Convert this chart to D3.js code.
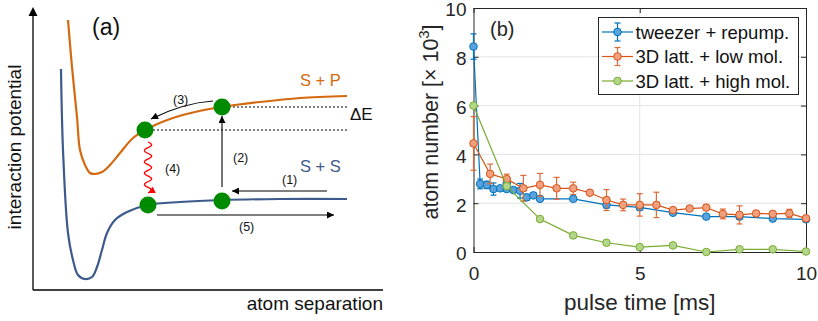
<!DOCTYPE html>
<html>
<head>
<meta charset="utf-8">
<script src="https://cdn.jsdelivr.net/npm/d3@7"></script>
<style>
  body { margin: 0; background: #fff; }
  svg { display: block; font-family: "Liberation Sans", Arial, sans-serif; }
</style>
</head>
<body>
<svg id="fig" width="818" height="321"></svg>
<script>
// ---------- panel (b): atom loss vs. pulse time ----------
const tweezerTime  = [0, 0.2, 0.4, 0.6, 0.8, 1.0, 1.0, 1.2, 1.4, 1.6, 1.8, 2, 3, 4, 5, 6, 7, 8, 9, 10];
const tweezerAtoms = [8.42, 2.79, 2.75, 2.58, 2.61, 2.81, 2.58, 2.54, 2.51, 2.24, 2.32, 2.18, 2.18, 1.93, 1.83, 1.61, 1.45, 1.45, 1.37, 1.34];
const tweezerErr   = [0.52, 0.2, 0.15, 0.25, 0.08, 0.15, 0.1, 0.1, 0.3, 0.12, 0.1, 0.08, 0.08, 0.13, 0.1, 0.1, 0.08, 0.1, 0.1, 0.1];

const lowMolTime  = [0, 0.5, 1, 1.5, 2, 2.5, 3, 3.5, 4, 4.5, 5, 5.5, 6, 6.5, 7, 7.5, 8, 8.5, 9, 9.5, 10];
const lowMolAtoms = [4.45, 3.2, 2.99, 2.61, 2.75, 2.61, 2.61, 2.43, 2.13, 1.93, 1.93, 1.93, 1.72, 1.78, 1.82, 1.56, 1.52, 1.58, 1.56, 1.58, 1.38];
const lowMolErr   = [1.1, 0.4, 0.2, 0.53, 0.47, 0.45, 0.25, 0.06, 0.43, 0.24, 0.46, 0.52, 0.1, 0.08, 0.1, 0.2, 0.37, 0.12, 0.1, 0.17, 0.1];

const highMolTime  = [0, 1, 2, 3, 4, 5, 6, 7, 8, 9, 10];
const highMolAtoms = [6.0, 2.7, 1.35, 0.68, 0.38, 0.2, 0.27, 0.0, 0.11, 0.11, 0.02];

const xTicksB = [0, 5, 10];
const yTicksB = [0, 2, 4, 6, 8, 10];
const legendLabels = ["tweezer + repump.", "3D latt. + low mol.", "3D latt. + high mol."];

// ---------- panel (a): schematic potential curves (separation, energy units) ----------
const spCurve = [[35,270],[39,223],[44,173],[47,140],[52,125],[57,117],[62,116],[69,118],[77,125],[87,137],[100,152],[112,160],[137,171],[162,178],[189,183],[227,188],[267,192],[314,194]];
const ssCurve = [[28,221],[30,140],[35,57],[40,30],[45,15],[52,11],[59,13],[64,23],[69,40],[74,57],[82,70],[94,78],[115,85],[147,88],[189,90],[247,91],[314,91]];
const atomPairs = [[112,160],[189,183],[115,85],[189,89]];

const svg = d3.select("#fig");

// ===================== panel (a) =====================
const sx = d3.scaleLinear().domain([0, 350]).range([33, 383]);
const sy = d3.scaleLinear().domain([0, 290]).range([290, 0]);

const defs = svg.append("defs");
function arrowMarker(id, color, w, h) {
  defs.append("marker")
    .attr("id", id).attr("viewBox", "0 0 10 10")
    .attr("refX", 10).attr("refY", 5)
    .attr("markerWidth", w).attr("markerHeight", h)
    .attr("markerUnits", "userSpaceOnUse")
    .attr("orient", "auto")
    .append("path").attr("d", "M0,0 L10,5 L0,10 Z").attr("fill", color);
}
arrowMarker("arrBlack", "#000", 11, 7);
arrowMarker("arrRed", "#ff0000", 8, 7);

const gA = svg.append("g");

// axes of the schematic
gA.append("line").attr("x1", sx(0)).attr("y1", sy(0)).attr("x2", sx(0)).attr("y2", sy(275))
  .attr("stroke", "#000").attr("stroke-width", 1.3);
gA.append("path")
  .attr("d", `M${sx(0)},${sy(283)} L${sx(-4.5)},${sy(274)} L${sx(4.5)},${sy(274)} Z`)
  .attr("fill", "#000");
gA.append("line").attr("x1", sx(0)).attr("y1", sy(0)).attr("x2", sx(350)).attr("y2", sy(0))
  .attr("stroke", "#000").attr("stroke-width", 1.3);

gA.append("text").attr("transform", `translate(21,${sy(143)}) rotate(-90)`)
  .attr("text-anchor", "middle").attr("font-size", 19).attr("fill", "#111")
  .text("interaction potential");
gA.append("text").attr("x", sx(350)).attr("y", 310)
  .attr("text-anchor", "end").attr("font-size", 19).attr("fill", "#111")
  .text("atom separation");
gA.append("text").attr("x", 92).attr("y", 35).attr("font-size", 23).attr("fill", "#111").text("(a)");

// dotted energy markers for ΔE
gA.append("line").attr("x1", sx(196)).attr("x2", sx(314)).attr("y1", sy(183)).attr("y2", sy(183))
  .attr("stroke", "#000").attr("stroke-width", 1).attr("stroke-dasharray", "2,2");
gA.append("line").attr("x1", sx(120)).attr("x2", sx(314)).attr("y1", sy(160)).attr("y2", sy(160))
  .attr("stroke", "#000").attr("stroke-width", 1).attr("stroke-dasharray", "2,2");

// potential curves
const curveLine = d3.line().x(d => sx(d[0])).y(d => sy(d[1])).curve(d3.curveCatmullRom.alpha(0.5));
gA.append("path").attr("d", curveLine(ssCurve)).attr("fill", "none")
  .attr("stroke", "#3d5a8c").attr("stroke-width", 2.2);
gA.append("path").attr("d", curveLine(spCurve)).attr("fill", "none")
  .attr("stroke", "#d4690f").attr("stroke-width", 2.2);

gA.append("text").attr("x", sx(267)).attr("y", sy(204)).attr("font-size", 16.5).attr("fill", "#d4690f").text("S + P");
gA.append("text").attr("x", sx(267)).attr("y", sy(118)).attr("font-size", 16.5).attr("fill", "#3d5a8c").text("S + S");
gA.append("text").attr("x", sx(317)).attr("y", sy(170)).attr("font-size", 17).attr("fill", "#111").text("ΔE");

// process arrows
function arrow(p0, p1) {
  gA.append("line").attr("x1", sx(p0[0])).attr("y1", sy(p0[1])).attr("x2", sx(p1[0])).attr("y2", sy(p1[1]))
    .attr("stroke", "#000").attr("stroke-width", 1.1).attr("marker-end", "url(#arrBlack)");
}
arrow([189, 103], [189, 174]);   // (2) excitation
arrow([294, 99], [199, 99]);     // (1) approach
arrow([124, 75], [301, 75]);     // (5) escape
gA.append("path")
  .attr("d", `M${sx(180)},${sy(189)} Q${sx(150)},${sy(187)} ${sx(118)},${sy(171)}`)
  .attr("fill", "none").attr("stroke", "#000").attr("stroke-width", 1.1)
  .attr("marker-end", "url(#arrBlack)");   // (3) acceleration on S+P

// (4) spontaneous decay, drawn as a squiggle
const waveTop = sy(148), waveBot = sy(97), waveX = sx(115);
const wavePts = d3.range(0, 1.0001, 0.01).map(t => [waveX + 3.6 * Math.sin(t * 2 * Math.PI * 4.5), waveTop + t * (waveBot - waveTop)]);
gA.append("path").attr("d", d3.line()(wavePts)).attr("fill", "none")
  .attr("stroke", "#ff0000").attr("stroke-width", 1.3).attr("marker-end", "url(#arrRed)");

const lbl = [["(1)", 249, 106], ["(2)", 200, 128], ["(3)", 140, 186], ["(4)", 132, 117], ["(5)", 206, 59]];
lbl.forEach(([t, u, v]) => gA.append("text").attr("x", sx(u)).attr("y", sy(v))
  .attr("font-size", 12.5).attr("fill", "#111").text(t));

gA.selectAll("circle.atom").data(atomPairs).join("circle").attr("class", "atom")
  .attr("cx", d => sx(d[0])).attr("cy", d => sy(d[1])).attr("r", 8.5).attr("fill", "#008a00");

// ===================== panel (b) =====================
const x = d3.scaleLinear().domain([0, 10]).range([473.5, 806]);
const y = d3.scaleLinear().domain([0, 10]).range([252, 8]);
const gB = svg.append("g");

// grid
gB.selectAll("line.gy").data([2, 4, 6, 8]).join("line").attr("class", "gy")
  .attr("x1", x(0)).attr("x2", x(10)).attr("y1", d => y(d)).attr("y2", d => y(d))
  .attr("stroke", "#e3e3e3").attr("stroke-width", 1);
gB.selectAll("line.gx").data([5]).join("line").attr("class", "gx")
  .attr("x1", d => x(d)).attr("x2", d => x(d)).attr("y1", y(0)).attr("y2", y(10))
  .attr("stroke", "#e3e3e3").attr("stroke-width", 1);

const axisColor = "#262626";
function styleAxis(g) {
  g.selectAll("path.domain").attr("stroke", axisColor).attr("stroke-width", 1);
  g.selectAll(".tick line").attr("stroke", axisColor);
  g.selectAll(".tick text").attr("fill", "#262626").attr("font-size", 19).attr("font-family", "Liberation Sans, Arial, sans-serif");
}
gB.append("g").attr("transform", `translate(0,${y(0)})`)
  .call(d3.axisBottom(x).tickValues(xTicksB).tickSize(-5).tickSizeOuter(0).tickPadding(15).tickFormat(d3.format("d")))
  .call(styleAxis);
gB.append("g").attr("transform", `translate(0,${y(10)})`)
  .call(d3.axisTop(x).tickValues(xTicksB).tickSize(-5).tickSizeOuter(0).tickFormat(""))
  .call(styleAxis);
gB.append("g").attr("transform", `translate(${x(0)},0)`)
  .call(d3.axisLeft(y).tickValues(yTicksB).tickSize(-5).tickSizeOuter(0).tickPadding(7).tickFormat(d3.format("d")))
  .call(styleAxis)
  .call(g => g.selectAll(".tick text").attr("dy", "0.42em"));
gB.append("g").attr("transform", `translate(${x(10)},0)`)
  .call(d3.axisRight(y).tickValues(yTicksB).tickSize(-5).tickSizeOuter(0).tickFormat(""))
  .call(styleAxis);

gB.append("text").attr("x", (x(0) + x(10)) / 2).attr("y", 310).attr("text-anchor", "middle")
  .attr("font-size", 22.5).attr("fill", "#262626").text("pulse time [ms]");
const yl = gB.append("text").attr("transform", `translate(437.5,122) rotate(-90)`)
  .attr("text-anchor", "middle").attr("font-size", 21.5).attr("fill", "#262626");
yl.append("tspan").text("atom number [× 10");
yl.append("tspan").attr("font-size", 14.5).attr("dy", -9).text("3");
yl.append("tspan").attr("dy", 9).text("]");

gB.append("text").attr("x", 490).attr("y", 36).attr("font-size", 20).attr("fill", "#262626").text("(b)");

// series
const series = [
  { t: tweezerTime, v: tweezerAtoms, e: tweezerErr, line: "#0072BD", face: "#5aa2dc", err: "#0072BD" },
  { t: lowMolTime, v: lowMolAtoms, e: lowMolErr, line: "#D95319", face: "#f0a07c", err: "#e06a38" },
  { t: highMolTime, v: highMolAtoms, e: null, line: "#77AC30", face: "#b3d68a", err: null }
];

const seriesLine = d3.line().x(d => x(d.t)).y(d => y(d.v));
series.forEach(s => {
  const pts = s.t.map((t, i) => ({ t, v: s.v[i], e: s.e ? s.e[i] : 0 }));
  const g = gB.append("g");
  if (s.e) {
    const eb = g.selectAll("g.eb").data(pts).join("g").attr("class", "eb")
      .attr("stroke", s.err).attr("stroke-width", 1.2);
    eb.append("line").attr("x1", d => x(d.t)).attr("x2", d => x(d.t))
      .attr("y1", d => y(d.v - d.e)).attr("y2", d => y(d.v + d.e));
    eb.append("line").attr("x1", d => x(d.t) - 3).attr("x2", d => x(d.t) + 3)
      .attr("y1", d => y(d.v - d.e)).attr("y2", d => y(d.v - d.e));
    eb.append("line").attr("x1", d => x(d.t) - 3).attr("x2", d => x(d.t) + 3)
      .attr("y1", d => y(d.v + d.e)).attr("y2", d => y(d.v + d.e));
  }
  g.append("path").attr("d", seriesLine(pts)).attr("fill", "none")
    .attr("stroke", s.line).attr("stroke-width", 1.2);
  g.selectAll("circle").data(pts).join("circle")
    .attr("cx", d => x(d.t)).attr("cy", d => y(d.v)).attr("r", 3.8)
    .attr("fill", s.face).attr("stroke", s.line).attr("stroke-width", 1);
});

// legend
const lg = gB.append("g");
lg.append("rect").attr("x", 598.5).attr("y", 17.5).attr("width", 200).attr("height", 77)
  .attr("fill", "#fff").attr("stroke", "#262626").attr("stroke-width", 1);
legendLabels.forEach((lab, i) => {
  const s = series[i];
  const cy = 32 + i * 24.5;
  const row = lg.append("g");
  row.append("line").attr("x1", 602).attr("x2", 633).attr("y1", cy).attr("y2", cy)
    .attr("stroke", s.line).attr("stroke-width", 1.2);
  if (s.e) {
    row.append("line").attr("x1", 617.5).attr("x2", 617.5).attr("y1", cy - 9).attr("y2", cy + 9)
      .attr("stroke", s.err).attr("stroke-width", 1.2);
    [-9, 9].forEach(o => row.append("line").attr("x1", 614.5).attr("x2", 620.5)
      .attr("y1", cy + o).attr("y2", cy + o).attr("stroke", s.err).attr("stroke-width", 1.2));
  }
  row.append("circle").attr("cx", 617.5).attr("cy", cy).attr("r", 3.8)
    .attr("fill", s.face).attr("stroke", s.line);
  row.append("text").attr("x", 635.5).attr("y", cy + 6.5).attr("font-size", 18.5).attr("fill", "#111").text(lab);
});
</script>
</body>
</html>
